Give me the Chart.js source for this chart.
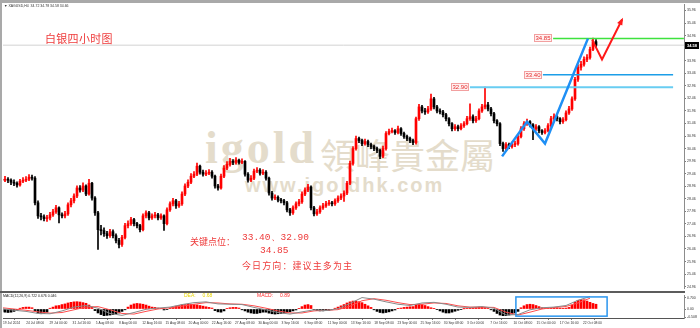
<!DOCTYPE html>
<html>
<head>
<meta charset="utf-8">
<title>白银四小时图</title>
<script src="https://cdn.jsdelivr.net/npm/chart.js@4.4.1/dist/chart.umd.min.js"></script>
<style>
    html, body { margin: 0; padding: 0; background: #fff; }
    #frame { position: relative; width: 700px; height: 328px; overflow: hidden; background: #fff; }
    #frame canvas { position: absolute; left: 0; z-index: 1; }
    #main-chart { top: 0; }
    #macd-chart { top: 292px; }
    .mark { position: absolute; white-space: pre; line-height: 1; z-index: 2; }
    .tiny { transform: scale(0.5); transform-origin: 0 0; font-family: "Liberation Sans", sans-serif; }
    .wm { position: absolute; white-space: nowrap; line-height: 1; z-index: 0; color: #e4dccb; }
    .cn { font-family: "Noto Sans CJK SC", sans-serif; color: #ee3a3a; }
    .num { font-family: "Liberation Mono", monospace; color: #ee3a3a; }
    .bar { position: absolute; z-index: 3; }
</style>
</head>
<body>
<div id="frame">
    <div class="bar" style="left:0;top:0;width:700px;height:3px;background:#a9a9a9"></div>
    <div class="bar" style="left:0;top:0;width:2px;height:328px;background:#a9a9a9"></div>
    <div class="bar" style="left:0;top:291px;width:685px;height:2px;background:#5c5c5c"></div>

    <!-- watermark -->
    <div class="wm" style="left:205px;top:125px;font-family:'Liberation Serif',serif;font-weight:bold;font-size:46px;letter-spacing:3px">igold</div>
    <div class="wm" style="left:320px;top:136px;font-family:'Noto Sans CJK TC',sans-serif;font-size:35px">領峰貴金屬</div>
    <div class="wm" style="left:245px;top:175px;font-family:'Liberation Sans',sans-serif;font-weight:bold;font-size:20px;letter-spacing:2px">www.igoldhk.com</div>

    <canvas id="main-chart" width="700" height="292"></canvas>
    <canvas id="macd-chart" width="700" height="36"></canvas>

    <div class="mark tiny" style="left:4px;top:4px;font-size:7px;color:#333">▼ XAGUSD,H4  34.72 34.78 34.58 34.66</div>
    <div class="mark cn" style="left:45px;top:33px;font-size:11px;letter-spacing:0.3px">白银四小时图</div>
    <div class="mark cn" style="left:190px;top:237px;font-size:9px">关键点位：</div>
    <div class="mark num" style="left:242px;top:233px;font-size:9.5px">33.40、32.90</div>
    <div class="mark num" style="left:260px;top:246px;font-size:9.5px">34.85</div>
    <div class="mark cn" style="left:242px;top:261px;font-size:9px;letter-spacing:1.1px">今日方向：建议主多为主</div>

    <div class="mark tiny" style="left:3px;top:294px;font-size:7px;color:#222">MACD(12,26,9) 0.722 0.676 0.046</div>
    <div class="mark tiny" style="left:184px;top:293px;font-size:10px;color:#e8d400">DEA:     0.68</div>
    <div class="mark tiny" style="left:257px;top:293px;font-size:10px;color:#ff2a2a">MACD:     0.89</div>
</div>

<script>
// *** DATA ***
var dateLabels = ['19 Jul 2024', '24 Jul 08:00', '29 Jul 00:00', '31 Jul 16:00', '5 Aug 08:00', '8 Aug 00:00',
    '12 Aug 16:00', '15 Aug 08:00', '20 Aug 00:00', '22 Aug 16:00', '27 Aug 08:00', '30 Aug 00:00',
    '3 Sep 16:00', '6 Sep 08:00', '11 Sep 00:00', '13 Sep 16:00', '18 Sep 08:00', '23 Sep 00:00',
    '25 Sep 16:00', '30 Sep 08:00', '3 Oct 00:00', '7 Oct 16:00', '10 Oct 08:00', '15 Oct 00:00',
    '17 Oct 16:00', '22 Oct 08:00'];

var priceTicks = [24.96, 25.46, 25.96, 26.46, 26.96, 27.46, 27.96, 28.46, 28.96, 29.46, 29.96, 30.46,
    30.96, 31.46, 31.96, 32.46, 32.96, 33.46, 33.96, 34.46, 34.96, 35.46, 35.96];

var opens = [29.24, 29.20, 29.24, 29.20, 29.12, 29.08, 29.01, 29.16, 29.20, 29.24,
    29.32, 29.28, 28.30, 27.78, 27.74, 27.67, 27.70, 27.82, 27.94, 28.10,
    27.82, 27.78, 27.86, 28.22, 28.38, 28.57, 28.89, 28.81, 28.97, 28.65,
    29.08, 28.49, 27.90, 27.23, 27.19, 27.07, 26.99, 27.15, 26.99, 26.80,
    26.64, 26.92, 27.39, 27.47, 27.63, 27.47, 27.39, 27.23, 27.78, 27.90,
    27.70, 27.78, 27.82, 27.70, 27.78, 27.47, 28.02, 28.26, 28.38, 28.18,
    28.26, 28.65, 28.97, 29.12, 29.36, 29.44, 29.76, 29.52, 29.44, 29.48,
    29.52, 29.36, 28.97, 28.89, 29.36, 29.68, 29.83, 29.95, 29.91, 29.99,
    29.91, 29.95, 29.44, 29.20, 29.28, 29.56, 29.60, 29.48, 29.52, 29.28,
    28.69, 28.49, 28.52, 28.41, 28.38, 28.30, 28.02, 27.90, 28.10, 28.26,
    28.34, 28.65, 28.81, 28.93, 28.10, 27.86, 27.94, 28.10, 28.18, 28.26,
    28.30, 28.26, 28.38, 28.49, 28.57, 28.69, 29.08, 29.87, 30.46, 30.86,
    30.78, 30.66, 30.74, 30.62, 30.54, 30.46, 30.39, 30.15, 30.46, 31.06,
    31.14, 31.17, 31.10, 31.25, 31.06, 30.94, 30.86, 30.78, 30.70, 31.65,
    32.12, 31.96, 31.92, 32.04, 32.44, 32.12, 31.96, 31.92, 31.81, 31.65,
    31.45, 31.25, 31.33, 31.25, 31.37, 31.45, 31.65, 31.73, 31.57, 31.65,
    31.96, 32.12, 32.20, 32.04, 31.85, 31.57, 31.45, 30.66, 30.46, 30.62,
    30.54, 30.62, 30.66, 30.94, 31.25, 31.45, 31.53, 31.41, 31.25, 31.33,
    31.17, 31.10, 31.17, 31.37, 31.65, 31.73, 31.65, 31.53, 31.61, 31.88,
    32.04, 32.44, 33.22, 33.70, 33.82, 34.01, 34.09, 34.41, 34.72];

var highs = [29.32, 29.35, 29.30, 29.26, 29.22, 29.14, 29.24, 29.30, 29.34, 29.42,
    29.40, 29.34, 28.38, 27.88, 27.82, 27.80, 27.92, 28.04, 28.20, 28.14,
    27.90, 27.96, 28.30, 28.48, 28.66, 28.98, 28.99, 29.10, 29.02, 29.24,
    29.12, 28.55, 27.96, 27.40, 27.30, 27.16, 27.24, 27.22, 27.06, 26.88,
    27.00, 27.48, 27.58, 27.72, 27.68, 27.52, 27.44, 27.86, 27.98, 27.96,
    27.86, 27.92, 27.88, 27.86, 27.82, 28.10, 28.34, 28.48, 28.44, 28.36,
    28.74, 29.06, 29.22, 29.46, 29.54, 29.88, 29.80, 29.60, 29.58, 29.62,
    29.58, 29.40, 29.04, 29.44, 29.78, 29.94, 30.07, 30.02, 30.10, 30.04,
    30.05, 29.98, 29.50, 29.38, 29.64, 29.70, 29.66, 29.62, 29.58, 29.32,
    28.76, 28.62, 28.58, 28.48, 28.44, 28.36, 28.08, 28.18, 28.34, 28.44,
    28.74, 28.90, 29.04, 28.98, 28.16, 28.04, 28.18, 28.28, 28.36, 28.40,
    28.36, 28.46, 28.58, 28.66, 28.78, 29.16, 29.96, 30.54, 30.96, 30.92,
    30.84, 30.84, 30.80, 30.68, 30.60, 30.52, 30.44, 30.56, 31.14, 31.24,
    31.28, 31.22, 31.36, 31.30, 31.12, 31.00, 30.92, 30.84, 31.72, 32.22,
    32.18, 32.06, 32.14, 32.63, 32.50, 32.18, 32.04, 31.98, 31.86, 31.70,
    31.50, 31.42, 31.40, 31.46, 31.54, 31.74, 32.24, 31.80, 31.74, 32.04,
    32.22, 32.91, 32.30, 32.10, 31.90, 31.62, 31.50, 30.72, 30.70, 30.68,
    30.72, 30.76, 31.02, 31.34, 31.54, 31.64, 31.58, 31.46, 31.42, 31.38,
    31.22, 31.26, 31.46, 31.74, 31.84, 31.78, 31.70, 31.70, 31.96, 32.14,
    32.52, 33.30, 33.80, 33.94, 34.12, 34.20, 34.50, 34.86, 34.80];

var lows = [29.12, 29.14, 29.10, 29.02, 28.98, 28.92, 28.96, 29.10, 29.14, 29.18,
    29.20, 28.22, 27.68, 27.62, 27.58, 27.56, 27.62, 27.76, 27.88, 27.50,
    27.70, 27.70, 27.80, 28.14, 28.30, 28.50, 28.72, 28.74, 28.58, 28.60,
    28.40, 27.80, 26.44, 27.02, 26.96, 26.88, 26.92, 26.90, 26.70, 26.50,
    26.56, 26.86, 27.30, 27.40, 27.38, 27.30, 27.14, 27.18, 27.70, 27.62,
    27.64, 27.70, 27.62, 27.64, 27.20, 27.42, 27.96, 28.18, 28.08, 28.12,
    28.20, 28.58, 28.90, 29.06, 29.30, 29.38, 29.44, 29.36, 29.38, 29.42,
    29.28, 28.88, 28.80, 28.84, 29.30, 29.62, 29.76, 29.82, 29.84, 29.84,
    29.86, 29.36, 29.12, 29.14, 29.22, 29.50, 29.40, 29.42, 29.20, 28.60,
    28.40, 28.42, 28.34, 28.30, 28.22, 27.94, 27.80, 27.84, 28.04, 28.18,
    28.28, 28.58, 28.74, 28.02, 27.78, 27.80, 27.88, 28.04, 28.12, 28.20,
    28.18, 28.20, 28.32, 28.42, 28.36, 28.62, 29.02, 29.80, 30.40, 30.70,
    30.58, 30.60, 30.54, 30.46, 30.38, 30.30, 30.06, 30.10, 30.40, 31.00,
    31.08, 31.02, 31.04, 30.98, 30.86, 30.78, 30.70, 30.62, 30.64, 31.58,
    31.88, 31.82, 31.86, 31.98, 32.04, 31.88, 31.84, 31.72, 31.56, 31.36,
    31.16, 31.18, 31.16, 31.20, 31.30, 31.40, 31.58, 31.48, 31.50, 31.60,
    31.90, 32.04, 31.96, 31.76, 31.48, 31.36, 30.58, 30.35, 30.40, 30.46,
    30.48, 30.54, 30.60, 30.88, 31.18, 31.38, 31.32, 30.82, 31.18, 31.08,
    31.02, 31.04, 31.12, 31.30, 31.58, 31.56, 31.44, 31.46, 31.56, 31.82,
    31.98, 32.38, 33.14, 33.58, 33.74, 33.92, 34.02, 34.36, 34.50];

var closes = [29.20, 29.24, 29.20, 29.12, 29.08, 29.01, 29.16, 29.20, 29.24, 29.32,
    29.28, 28.30, 27.78, 27.74, 27.67, 27.70, 27.82, 27.94, 28.10, 27.82,
    27.78, 27.86, 28.22, 28.38, 28.57, 28.89, 28.81, 28.97, 28.65, 29.08,
    28.49, 27.90, 27.23, 27.19, 27.07, 26.99, 27.15, 26.99, 26.80, 26.64,
    26.92, 27.39, 27.47, 27.63, 27.47, 27.39, 27.23, 27.78, 27.90, 27.70,
    27.78, 27.82, 27.70, 27.78, 27.47, 28.02, 28.26, 28.38, 28.18, 28.26,
    28.65, 28.97, 29.12, 29.36, 29.44, 29.76, 29.52, 29.44, 29.48, 29.52,
    29.36, 28.97, 28.89, 29.36, 29.68, 29.83, 29.95, 29.91, 29.99, 29.91,
    29.95, 29.44, 29.20, 29.28, 29.56, 29.60, 29.48, 29.52, 29.28, 28.69,
    28.49, 28.52, 28.41, 28.38, 28.30, 28.02, 27.90, 28.10, 28.26, 28.34,
    28.65, 28.81, 28.93, 28.10, 27.86, 27.94, 28.10, 28.18, 28.26, 28.30,
    28.26, 28.38, 28.49, 28.57, 28.69, 29.08, 29.87, 30.46, 30.86, 30.78,
    30.66, 30.74, 30.62, 30.54, 30.46, 30.39, 30.15, 30.46, 31.06, 31.14,
    31.17, 31.10, 31.25, 31.06, 30.94, 30.86, 30.78, 30.70, 31.65, 32.12,
    31.96, 31.92, 32.04, 32.44, 32.12, 31.96, 31.92, 31.81, 31.65, 31.45,
    31.25, 31.33, 31.25, 31.37, 31.45, 31.65, 31.73, 31.57, 31.65, 31.96,
    32.12, 32.20, 32.04, 31.85, 31.57, 31.45, 30.66, 30.46, 30.62, 30.54,
    30.62, 30.66, 30.94, 31.25, 31.45, 31.53, 31.41, 31.25, 31.33, 31.17,
    31.10, 31.17, 31.37, 31.65, 31.73, 31.65, 31.53, 31.61, 31.88, 32.04,
    32.44, 33.22, 33.70, 33.82, 34.01, 34.09, 34.41, 34.72, 34.58];

var macdHist = [-0.15, -0.2, -0.22, -0.2, -0.15, -0.1,
    0.05, 0.1, 0.12, 0.12, 0.08,
    -0.1, -0.25, -0.3, -0.28, -0.2,
    0.05, 0.12, 0.2, 0.22,
    0.28, 0.32, 0.38, 0.42, 0.45, 0.46, 0.44, 0.4, 0.36,
    0.25, 0.12,
    -0.1, -0.25, -0.35, -0.42, -0.4, -0.38, -0.35, -0.3,
    -0.25, -0.15, -0.05,
    0.12, 0.25, 0.32, 0.35, 0.33, 0.3, 0.25,
    0.18, 0.12, 0.1, 0.06, 0.04,
    -0.06, -0.04,
    0.06, 0.12, 0.18, 0.22, 0.26, 0.28, 0.3, 0.3, 0.28, 0.26, 0.22,
    0.18, 0.14, 0.1, 0.06,
    -0.1, -0.18, -0.2, -0.12,
    0.04, 0.08, 0.1, 0.1, 0.06,
    -0.05, -0.12, -0.2, -0.25, -0.28, -0.28, -0.24, -0.2,
    -0.2, -0.26, -0.3, -0.32, -0.3, -0.28, -0.26, -0.22, -0.18,
    -0.12, -0.06, 0.02,
    0.15, 0.25, 0.28, 0.22,
    -0.05, -0.1, -0.12, -0.12, -0.1, -0.08, -0.05,
    0.05, 0.12, 0.2, 0.28, 0.38, 0.45,
    0.5, 0.5, 0.46, 0.4,
    0.3, 0.2, 0.1,
    -0.05, -0.15, -0.22, -0.25, -0.22, -0.18, -0.12, -0.06,
    0.02, 0.06, 0.1,
    0.12, 0.14, 0.15,
    0.25, 0.3, 0.28, 0.22,
    0.15, 0.08, 0.02, -0.04,
    -0.12, -0.2, -0.25, -0.25, -0.2, -0.14,
    -0.08, -0.04, 0.01, 0.04, 0.06,
    0.08, 0.1, 0.12, 0.12, 0.1,
    0.04, -0.05,
    -0.15, -0.28, -0.38, -0.42, -0.42, -0.38, -0.32, -0.25, -0.15,
    0.08, 0.2, 0.28, 0.3, 0.28, 0.22, 0.15,
    0.08, 0.06, 0.05, 0.06, 0.08, 0.08, 0.06, 0.05, 0.06, 0.1,
    0.25, 0.42, 0.55, 0.6, 0.58,
    0.5, 0.42, 0.35, 0.3];

// MACD lines, one reading every 4 candles
var macdMain = [0.02, -0.08, -0.15, -0.28, -0.3, -0.12, 0.12, 0.22, 0.05, -0.28,
    -0.4, -0.22, -0.02, 0.06, 0.12, 0.28, 0.4, 0.45, 0.32, 0.3,
    0.28, 0.1, -0.05, -0.22, -0.32, -0.18, -0.05, -0.1, 0.02, 0.35,
    0.72, 0.62, 0.45, 0.3, 0.22, 0.38, 0.42, 0.3, 0.12, 0.1,
    0.15, 0.05, -0.38, -0.35, -0.05, 0.08, 0.12, 0.22, 0.55, 0.78];
var macdSignal = [0.08, 0.0, -0.08, -0.18, -0.26, -0.22, -0.05, 0.12, 0.15, -0.05,
    -0.28, -0.32, -0.15, 0.0, 0.08, 0.18, 0.3, 0.4, 0.38, 0.32,
    0.3, 0.2, 0.05, -0.12, -0.25, -0.25, -0.12, -0.08, -0.04, 0.18,
    0.52, 0.65, 0.55, 0.4, 0.28, 0.3, 0.38, 0.35, 0.2, 0.12,
    0.12, 0.1, -0.2, -0.38, -0.2, 0.0, 0.1, 0.16, 0.38, 0.68];
var macdTicks = [0.7, 0, -0.508];
var macdTickText = ['0.700', '0.00', '-0.508'];

// drawn annotations (x in candle units, y in price units)
var levelPrices = [34.85, 33.40, 32.90];
var levelFrom = [183.7, 180.3, 156];
var levelTo = [227.3, 223.7, 223.7];
var waveX = [166.7, 175, 181, 195.3];
var waveY = [30.15, 31.53, 30.66, 34.84];
var forecastX = [196.7, 200, 206.7];
var forecastY = [34.80, 34.01, 35.60];
var boxX = [171.3, 201.7];
var boxY = [0.76, -0.45];

// *** LAYOUT ***
var xMin = 0.3333;
var xMax = 227.3333;
var priceMin = 24.87;
var priceMax = 36.22;
var macdMin = -0.566;
var macdMax = 0.875;
var barsPerLabel = 7.7333;
var macdStep = 4;
var upColor = '#ff0000';
var downColor = '#000000';
var levelColors = ['#3de23d', '#1c9ee8', '#68cdf2'];
var levelWidths = [1.5, 1.5, 2];

// *** FUNCTIONS ***
function candleSets() {
    var wicks = [];
    var bodies = [];
    var colors = [];
    for (var i = 0; i < closes.length; i++) {
        wicks.push({x: i, y: [lows[i], highs[i]]});
        bodies.push({x: i, y: [Math.min(opens[i], closes[i]), Math.max(opens[i], closes[i])]});
        colors.push(closes[i] >= opens[i] ? upColor : downColor);
    }
    return [{
        data: bodies, backgroundColor: colors, barThickness: 2, minBarLength: 1,
        grouped: false, borderWidth: 0, order: 4
    }, {
        data: wicks, backgroundColor: colors, barThickness: 1,
        grouped: false, borderWidth: 0, order: 5
    }];
}

function lineSet(xs, ys, color, width, order) {
    var pts = [];
    for (var i = 0; i < xs.length; i++) {
        pts.push({x: xs[i], y: ys[i]});
    }
    return {
        type: 'line', data: pts, borderColor: color, borderWidth: width,
        pointRadius: 0, fill: false, tension: 0, order: order
    };
}

function mainSets() {
    var sets = candleSets();
    var last = closes[closes.length - 1];
    sets.push(lineSet([xMin, xMax], [last, last], '#d2d2d2', 1, 6));
    for (var k = 0; k < levelPrices.length; k++) {
        sets.push(lineSet([levelFrom[k], levelTo[k]], [levelPrices[k], levelPrices[k]], levelColors[k], levelWidths[k], 2));
    }
    sets.push(lineSet(waveX, waveY, '#1e8ff5', 2.5, 1));
    sets.push(lineSet(forecastX, forecastY, '#ff1a1a', 2, 0));
    return sets;
}

var mainOverlay = {
    id: 'mainOverlay',
    afterDatasetsDraw: function(chart) {
        var ctx = chart.ctx;
        var xs = chart.scales.x;
        var ys = chart.scales.y;
        ctx.save();
        // price tags at the left end of the level lines
        ctx.font = '6px "Liberation Sans"';
        ctx.textAlign = 'center';
        ctx.textBaseline = 'middle';
        for (var k = 0; k < levelPrices.length; k++) {
            var px = Math.round(xs.getPixelForValue(levelFrom[k]));
            var py = Math.round(ys.getPixelForValue(levelPrices[k]));
            ctx.fillStyle = '#fff1f1';
            ctx.fillRect(px - 19, py - 4, 18, 8);
            ctx.strokeStyle = '#f2a0a0';
            ctx.lineWidth = 1;
            ctx.strokeRect(px - 18.5, py - 3.5, 17, 7);
            ctx.fillStyle = '#e42a2a';
            ctx.fillText(levelPrices[k].toFixed(2), px - 10, py + 0.5);
        }
        // arrow head on the forecast path
        var n = forecastX.length;
        var x1 = xs.getPixelForValue(forecastX[n - 2]);
        var y1 = ys.getPixelForValue(forecastY[n - 2]);
        var x2 = xs.getPixelForValue(forecastX[n - 1]);
        var y2 = ys.getPixelForValue(forecastY[n - 1]);
        var ang = Math.atan2(y2 - y1, x2 - x1);
        ctx.fillStyle = '#ff1a1a';
        ctx.beginPath();
        ctx.moveTo(x2 + 2 * Math.cos(ang), y2 + 2 * Math.sin(ang));
        ctx.lineTo(x2 - 6 * Math.cos(ang - 0.5), y2 - 6 * Math.sin(ang - 0.5));
        ctx.lineTo(x2 - 6 * Math.cos(ang + 0.5), y2 - 6 * Math.sin(ang + 0.5));
        ctx.closePath();
        ctx.fill();
        ctx.restore();
    },
    afterDraw: function(chart) {
        // last price box on the price scale
        var ctx = chart.ctx;
        var last = closes[closes.length - 1];
        var py = Math.round(chart.scales.y.getPixelForValue(last));
        var left = chart.chartArea.right + 1;
        ctx.save();
        ctx.fillStyle = '#000';
        ctx.fillRect(left, py - 3, 14, 7);
        ctx.fillStyle = '#fff';
        ctx.font = 'bold 4px "Liberation Sans"';
        ctx.textBaseline = 'middle';
        ctx.fillText(last.toFixed(2), left + 2, py + 0.5);
        ctx.restore();
    }
};

var macdOverlay = {
    id: 'macdOverlay',
    afterDatasetsDraw: function(chart) {
        var ctx = chart.ctx;
        var x0 = chart.scales.x.getPixelForValue(boxX[0]);
        var x1 = chart.scales.x.getPixelForValue(boxX[1]);
        var y0 = chart.scales.y.getPixelForValue(boxY[0]);
        var y1 = chart.scales.y.getPixelForValue(boxY[1]);
        ctx.save();
        ctx.strokeStyle = '#2a95ee';
        ctx.lineWidth = 1.5;
        ctx.strokeRect(x0, y0, x1 - x0, y1 - y0);
        ctx.restore();
    }
};

function drawMain() {
    return new Chart(document.getElementById('main-chart'), {
        type: 'bar',
        data: { datasets: mainSets() },
        options: {
            responsive: false,
            animation: false,
            layout: { padding: { left: 3, top: 4, right: 0, bottom: 0 } },
            plugins: { legend: { display: false }, tooltip: { enabled: false } },
            scales: {
                x: { type: 'linear', min: xMin, max: xMax, offset: false, display: false },
                y: {
                    position: 'right', min: priceMin, max: priceMax, beginAtZero: false,
                    afterBuildTicks: function(scale) {
                        scale.ticks = priceTicks.map(function(v) { return {value: v}; });
                    },
                    afterFit: function(scale) { scale.width = 16; },
                    border: { display: true, color: '#8c8c8c' },
                    grid: { drawOnChartArea: false, tickLength: 2, color: '#7a7a7a' },
                    ticks: {
                        font: { size: 3.5, family: 'Liberation Sans' }, color: '#333', padding: 1,
                        callback: function(v) { return Number(v).toFixed(2); }
                    }
                }
            }
        },
        plugins: [mainOverlay]
    });
}

function drawMacd() {
    var hist = [];
    var histColors = [];
    for (var i = 0; i < macdHist.length; i++) {
        hist.push({x: i, y: macdHist[i]});
        histColors.push(macdHist[i] >= 0 ? upColor : downColor);
    }
    var mainIdx = macdMain.map(function(v, k) { return k * macdStep; });
    return new Chart(document.getElementById('macd-chart'), {
        type: 'bar',
        data: {
            datasets: [
                lineSet(mainIdx, macdMain, '#8a8a8a', 1, 1),
                lineSet(mainIdx, macdSignal, '#ff4d4d', 1, 2),
                { data: hist, backgroundColor: histColors, barThickness: 2, borderWidth: 0, order: 3 }
            ]
        },
        options: {
            responsive: false,
            animation: false,
            layout: { padding: { left: 3, top: 1, right: 0, bottom: 0 } },
            plugins: { legend: { display: false }, tooltip: { enabled: false } },
            scales: {
                x: {
                    type: 'linear', min: xMin, max: xMax, offset: false,
                    afterBuildTicks: function(scale) {
                        scale.ticks = dateLabels.map(function(t, k) { return {value: xMin + k * barsPerLabel}; });
                    },
                    afterFit: function(scale) { scale.height = 10; },
                    border: { display: true, color: '#555' },
                    grid: { drawOnChartArea: false, tickLength: 2, color: '#777' },
                    ticks: {
                        autoSkip: false, maxRotation: 0, minRotation: 0, align: 'start', padding: 1,
                        font: { size: 3.3, family: 'Liberation Sans' }, color: '#333',
                        callback: function(v, i) { return dateLabels[i]; }
                    }
                },
                y: {
                    position: 'right', min: macdMin, max: macdMax, beginAtZero: false,
                    afterBuildTicks: function(scale) {
                        scale.ticks = macdTicks.map(function(v) { return {value: v}; });
                    },
                    afterFit: function(scale) { scale.width = 16; },
                    border: { display: true, color: '#8c8c8c' },
                    grid: { drawOnChartArea: false, tickLength: 2, color: '#7a7a7a' },
                    ticks: {
                        font: { size: 3.5, family: 'Liberation Sans' }, color: '#333', padding: 1,
                        callback: function(v, i) { return macdTickText[i]; }
                    }
                }
            }
        },
        plugins: [macdOverlay]
    });
}

drawMain();
drawMacd();
</script>
</body>
</html>
